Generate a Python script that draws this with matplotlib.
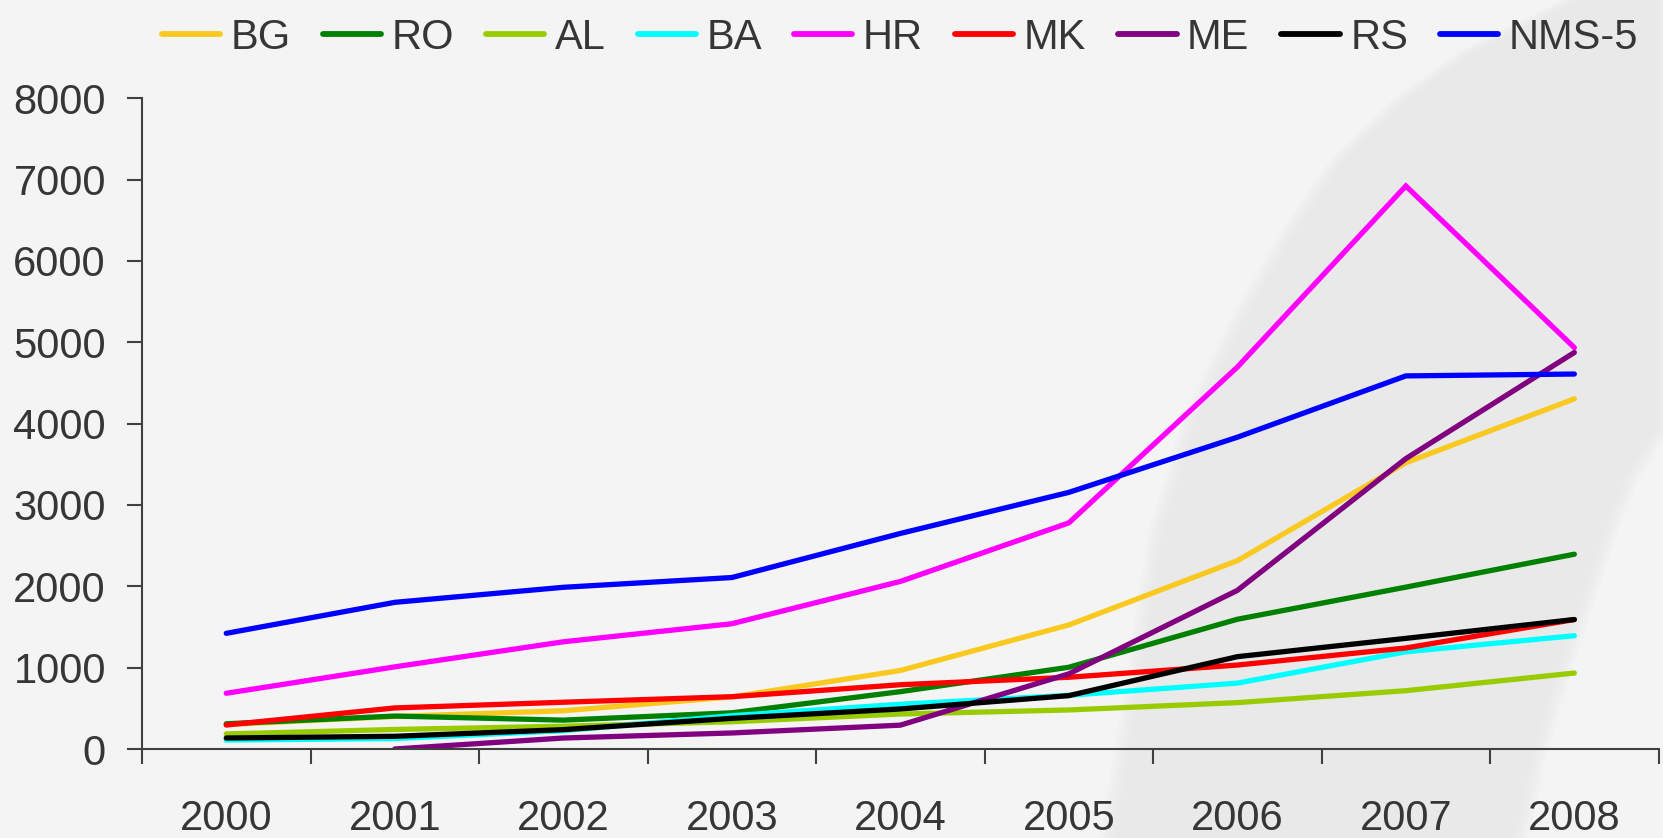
import numpy as np
import matplotlib
matplotlib.use("Agg")
import matplotlib.pyplot as plt
from matplotlib.patches import Polygon

years = ["2000", "2001", "2002", "2003", "2004", "2005", "2006", "2007", "2008"]
series_names = ["BG", "RO", "AL", "BA", "HR", "MK", "ME", "RS", "NMS-5"]
BG = [300, 400, 470, 640, 965, 1525, 2315, 3520, 4305]
RO = [310, 405, 355, 445, 705, 1005, 1595, 1990, 2395]
AL = [185, 240, 280, 335, 430, 480, 570, 717, 934]
BA = [110, 128, 225, 410, 550, 660, 810, 1195, 1393]
HR = [685, 1010, 1318, 1540, 2060, 2780, 4695, 6922, 4935]
MK = [295, 505, 575, 643, 790, 882, 1032, 1242, 1592]
ME = [np.nan, 0, 135, 197, 293, 924, 1950, 3570, 4875]
RS = [135, 156, 238, 377, 492, 656, 1135, 1360, 1592]
NMS5 = [1422, 1803, 1988, 2108, 2650, 3155, 3833, 4587, 4610]
yticks = [0, 1000, 2000, 3000, 4000, 5000, 6000, 7000, 8000]

colors = ["#F9C920", "#008000", "#99CC00", "#00FFFF", "#FF00FF",
          "#FF0000", "#800080", "#000000", "#0000FF"]
data = [BG, RO, AL, BA, HR, MK, ME, RS, NMS5]

W, H = 1663, 838
plt.rcParams['font.family'] = ['Liberation Sans', 'DejaVu Sans']
fig = plt.figure(figsize=(W / 100, H / 100), dpi=100)
fig.patch.set_facecolor("#f4f4f4")

# decorative background swoosh (soft edges via layered translucent polygons)
bg = fig.add_axes([0, 0, 1, 1], zorder=-10)
bg.set_xlim(0, W)
bg.set_ylim(H, 0)
bg.axis("off")
left_edge = [(1108, 838), (1130, 700), (1156, 534), (1190, 420), (1237, 321),
             (1290, 230), (1338, 160), (1400, 100), (1465, 53), (1571, 0)]
right_edge = [(1663, 0), (1663, 428), (1630, 480), (1609, 534), (1570, 650),
              (1540, 750), (1520, 838)]
for d in [-8, -4, 0, 4, 8]:
    le = [(px + d, py) for px, py in left_edge]
    re = [(px - d, py) for px, py in right_edge]
    bg.add_patch(Polygon(le + re, closed=True, facecolor="#e6e6e6",
                         edgecolor="none", alpha=0.2))

ax = fig.add_axes([142 / W, 1 - 749 / H, (1658.6 - 142) / W, (749 - 98.3) / H])
ax.set_facecolor("none")
x = np.arange(len(years))
for name, vals, c in zip(series_names, data, colors):
    ax.plot(x, vals, color=c, lw=3.8, label=name, solid_capstyle="round",
            solid_joinstyle="miter")

ax.set_xlim(-0.5, len(years) - 0.5)
ax.set_ylim(0, 8000)
ax.set_yticks(yticks)
ax.set_yticklabels([str(v) for v in yticks])
ax.set_xticks(np.arange(-0.5, len(years)))
ax.set_xticklabels([])
ax.set_xticks(x, minor=True)
ax.set_xticklabels(years, minor=True)

tc = "#363636"
for s in ["top", "right"]:
    ax.spines[s].set_visible(False)
for s in ["left", "bottom"]:
    ax.spines[s].set_color("#404040")
    ax.spines[s].set_linewidth(1.5)
ax.tick_params(axis="y", which="major", length=11, width=1.5, color="#404040",
               labelsize=30, labelcolor=tc, pad=15)
ax.tick_params(axis="x", which="major", length=11, width=1.5, color="#404040")
ax.tick_params(axis="x", which="minor", length=0, labelsize=30,
               labelcolor=tc, pad=36)

leg = fig.legend(loc="center", bbox_to_anchor=(900 / W, 1 - 38 / H), ncol=9,
                 frameon=False, fontsize=30, handlelength=1.4,
                 handletextpad=0.25, columnspacing=0.77, borderpad=0,
                 borderaxespad=0)
for t in leg.get_texts():
    t.set_color(tc)
for l in leg.get_lines():
    l.set_linewidth(4.2)

fig.savefig("out.png", dpi=100, facecolor=fig.get_facecolor())
